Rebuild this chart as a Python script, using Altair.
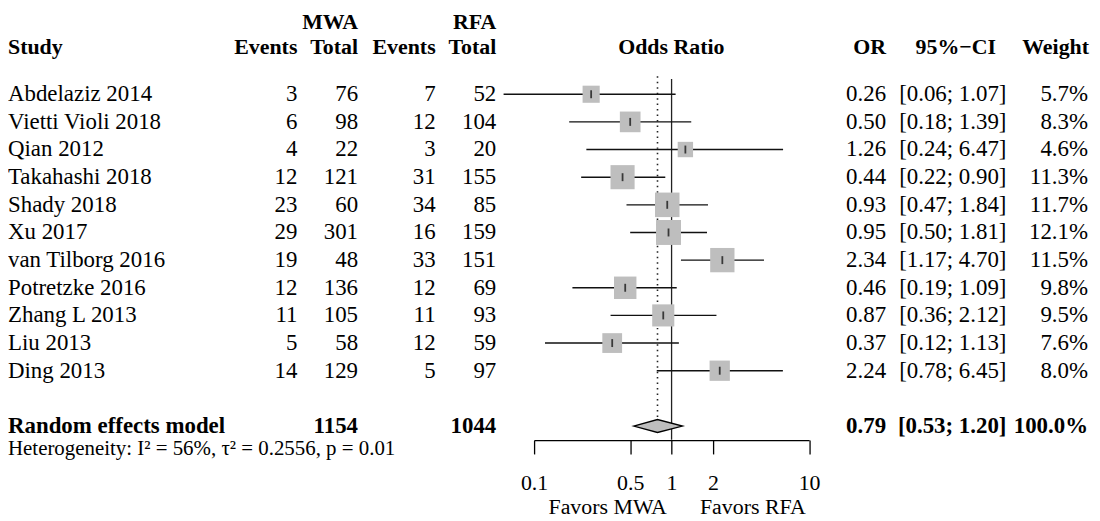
import altair as alt
import pandas as pd

FONT = "Liberation Serif"
FS = 23

# ---------------- data ----------------
studies = ["Abdelaziz 2014", "Vietti Violi 2018", "Qian 2012", "Takahashi 2018",
           "Shady 2018", "Xu 2017", "van Tilborg 2016", "Potretzke 2016",
           "Zhang L 2013", "Liu 2013", "Ding 2013"]
mwa_events = [3, 6, 4, 12, 23, 29, 19, 12, 11, 5, 14]
mwa_total = [76, 98, 22, 121, 60, 301, 48, 136, 105, 58, 129]
rfa_events = [7, 12, 3, 31, 34, 16, 33, 12, 11, 12, 5]
rfa_total = [52, 104, 20, 155, 85, 159, 151, 69, 93, 59, 97]
odds = [0.26, 0.50, 1.26, 0.44, 0.93, 0.95, 2.34, 0.46, 0.87, 0.37, 2.24]
ci_lo = [0.06, 0.18, 0.24, 0.22, 0.47, 0.50, 1.17, 0.19, 0.36, 0.12, 0.78]
ci_hi = [1.07, 1.39, 6.47, 0.90, 1.84, 1.81, 4.70, 1.09, 2.12, 1.13, 6.45]
weights = [5.7, 8.3, 4.6, 11.3, 11.7, 12.1, 11.5, 9.8, 9.5, 7.6, 8.0]

pooled_label = "Random effects model"
pooled_mwa_total = 1154
pooled_rfa_total = 1044
pooled_or = 0.79
pooled_lo = 0.53
pooled_hi = 1.20
pooled_weight = 100.0
het_text = "Heterogeneity: I² = 56%, τ² = 0.2556, p = 0.01"

axis_ticks = [0.1, 0.5, 1, 2, 10]

# ---------------- tables ----------------
df = pd.DataFrame({
    "study": studies,
    "me": mwa_events,
    "mt": mwa_total,
    "re": rfa_events,
    "rt": rfa_total,
    "or": odds,
    "lo": ci_lo,
    "hi": ci_hi,
    "w": weights,
    "row": list(range(len(studies))),
})
df["or_txt"] = [f"{v:.2f}" for v in df["or"]]
df["ci_txt"] = [f"[{a:.2f}; {b:.2f}]" for a, b in zip(df["lo"], df["hi"])]
df["w_txt"] = [f"{v:.1f}%" for v in df["w"]]

POOL_ROW = 12
pool = pd.DataFrame({
    "row": [POOL_ROW],
    "label": [pooled_label],
    "mt": [str(pooled_mwa_total)],
    "rt": [str(pooled_rfa_total)],
    "or_txt": [f"{pooled_or:.2f}"],
    "ci_txt": [f"[{pooled_lo:.2f}; {pooled_hi:.2f}]"],
    "w_txt": [f"{pooled_weight:.1f}%"],
})

H = 0.234  # diamond half height (rows)
dia = pd.DataFrame({
    "x": [pooled_lo, pooled_or, pooled_hi],
    "y": [POOL_ROW, POOL_ROW - H, POOL_ROW],
    "y2": [POOL_ROW, POOL_ROW + H, POOL_ROW],
})

ref = pd.DataFrame({"x": [1], "y": [-0.55], "y2": [12.5]})
pref = pd.DataFrame({"x": [pooled_or], "y": [-0.65], "y2": [POOL_ROW - H]})

# ---------------- scales ----------------
yscale = alt.Scale(domain=[0, 12], range=[85.3, 418.9], nice=False, zero=False)
xscale = alt.Scale(type="log", domain=[0.1, 10], range=[529, 805.5], nice=False)
xaxis = alt.Axis(values=axis_ticks, format="~g", title=None, grid=False,
                 labelFont=FONT, labelFontSize=22, labelColor="black",
                 tickSize=14, tickColor="black", tickWidth=1.3,
                 domainColor="black", domainWidth=1.3, labelPadding=19,
                 labelFlush=False, labelOverlap=False)


def X(field):
    return alt.X(field, type="quantitative", scale=xscale, axis=xaxis)


def Y(field="row"):
    return alt.Y(field, type="quantitative", scale=yscale, axis=None)


def text_layer(data, field, xpx, align, bold=False, size=FS, row="row"):
    return alt.Chart(data).mark_text(
        align=align, baseline="middle", font=FONT, fontSize=size,
        fontWeight="bold" if bold else "normal", color="black"
    ).encode(x=alt.value(xpx), y=Y(row), text=alt.Text(field, type="nominal"))


# ---------------- forest marks ----------------
ref_line = alt.Chart(ref).mark_rule(color="#222222", strokeWidth=1.3).encode(
    x=X("x"), y=Y("y"), y2="y2")
pool_line = alt.Chart(pref).mark_rule(color="#222222", strokeWidth=1.6,
                                      strokeDash=[1.5, 4]).encode(
    x=X("x"), y=Y("y"), y2="y2")
ci = alt.Chart(df).mark_rule(color="#111111", strokeWidth=1.4).encode(
    x=X("lo"), x2="hi", y=Y())
squares = alt.Chart(df).mark_square(color="#BEBEBE", opacity=1, strokeWidth=0).encode(
    x=X("or"), y=Y(),
    size=alt.Size("w", type="quantitative",
                  scale=alt.Scale(domain=[0, 10], range=[0, 520]), legend=None))
ticks = alt.Chart(df).mark_tick(orient="vertical", size=8, thickness=1.8,
                                color="black").encode(x=X("or"), y=Y())
diamond = alt.Chart(dia).mark_area(color="#BEBEBE", stroke="black", strokeWidth=1.3,
                                   opacity=1, orient="vertical").encode(
    x=X("x"), y=Y("y"), y2="y2")

# ---------------- header texts ----------------
HFS = 22
hdr_top = pd.DataFrame({"row": [-2.6], "a": ["MWA"], "b": ["RFA"]})
hdr = pd.DataFrame({"row": [-1.72], "study": ["Study"], "ev": ["Events"], "tot": ["Total"],
                    "or": ["Odds Ratio"], "ort": ["OR"], "ci": ["95%−CI"], "w": ["Weight"]})
het = pd.DataFrame({"row": [12.85], "t": [het_text]})
fav = pd.DataFrame({"row": [14.92], "l": ["Favors MWA"], "r": ["Favors RFA"]})

layers = [
    ref_line, pool_line, ci, squares, ticks, diamond,
    text_layer(hdr_top, "a", 352, "right", bold=True, size=HFS),
    text_layer(hdr_top, "b", 491, "right", bold=True, size=HFS),
    text_layer(hdr, "study", 0, "left", bold=True, size=HFS),
    text_layer(hdr, "ev", 291, "right", bold=True, size=HFS),
    text_layer(hdr, "tot", 352, "right", bold=True, size=HFS),
    text_layer(hdr, "ev", 430, "right", bold=True, size=HFS),
    text_layer(hdr, "tot", 491, "right", bold=True, size=HFS),
    text_layer(hdr, "or", 667, "center", bold=True, size=HFS),
    text_layer(hdr, "ort", 883, "right", bold=True, size=HFS),
    text_layer(hdr, "ci", 953, "center", bold=True, size=HFS),
    text_layer(hdr, "w", 1087, "right", bold=True, size=HFS),
    # study rows
    text_layer(df, "study", 0, "left"),
    text_layer(df, "me", 291, "right"),
    text_layer(df, "mt", 352, "right"),
    text_layer(df, "re", 430, "right"),
    text_layer(df, "rt", 491, "right"),
    text_layer(df, "or_txt", 883, "right"),
    text_layer(df, "ci_txt", 1004, "right"),
    text_layer(df, "w_txt", 1086, "right"),
    # pooled row
    text_layer(pool, "label", 0, "left", bold=True),
    text_layer(pool, "mt", 352, "right", bold=True),
    text_layer(pool, "rt", 491, "right", bold=True),
    text_layer(pool, "or_txt", 883, "right", bold=True),
    text_layer(pool, "ci_txt", 1004, "right", bold=True),
    text_layer(pool, "w_txt", 1086, "right", bold=True),
    # heterogeneity and favours
    text_layer(het, "t", 0, "left", size=21),
    text_layer(fav, "l", 603, "center", size=22),
    text_layer(fav, "r", 749, "center", size=22),
]

chart = alt.layer(*layers).properties(
    width=1090, height=433,
    padding={"left": 0, "top": 0, "right": 0, "bottom": 80},
    autosize=alt.AutoSizeParams(type="none"),
).configure_view(stroke="transparent")

chart.save("out.html", embed_options={"renderer": "svg", "actions": False})
